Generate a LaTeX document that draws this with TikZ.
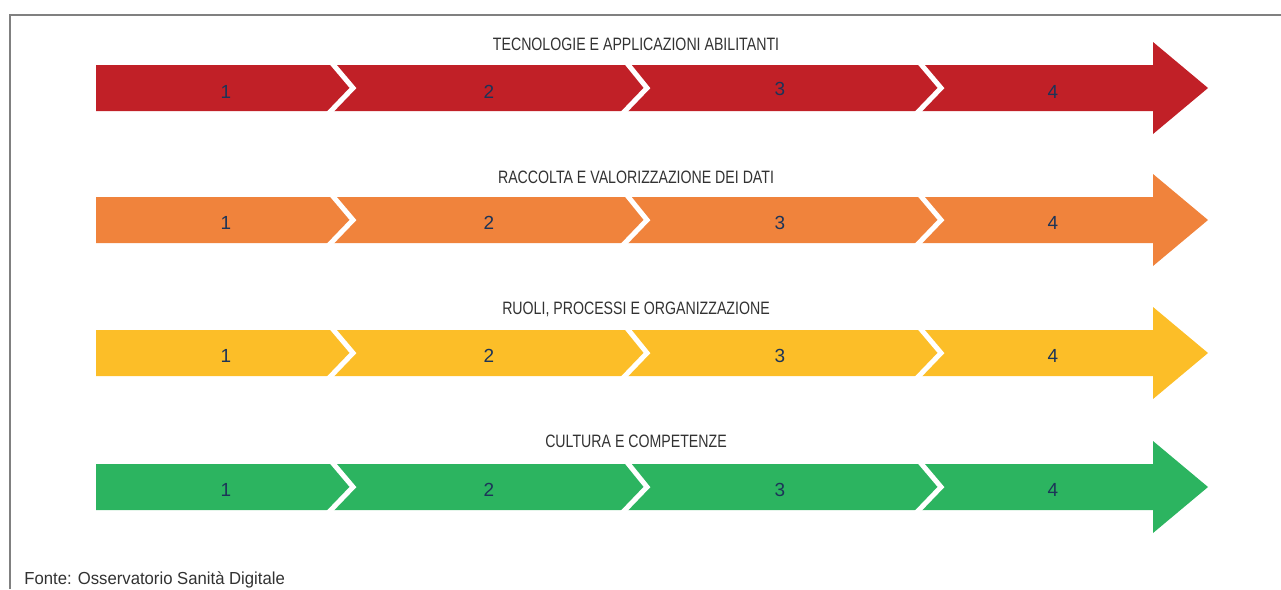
\documentclass[tikz,border=0pt]{standalone}
\usepackage{fontspec}
\setmainfont{Liberation Sans}
\newfontfamily\condfont{Liberation Sans}[FakeStretch=0.79]
\newfontfamily\notefont{Liberation Sans}[FakeStretch=0.96]
\usepackage{tikz}
\usetikzlibrary{positioning}
\definecolor{techred}{RGB}{193,32,39}
\definecolor{datiorange}{RGB}{240,131,60}
\definecolor{ruoliyellow}{RGB}{252,190,40}
\definecolor{culturagreen}{RGB}{44,180,96}
\definecolor{stagenavy}{RGB}{28,52,88}
\definecolor{titlegrey}{RGB}{50,50,50}
\definecolor{framegrey}{RGB}{128,128,128}
\tikzset{
    rowtitle/.style={anchor=base, inner sep=0pt, text=titlegrey, font=\condfont\fontsize{10.2pt}{12pt}\selectfont},
    stagenum/.style={anchor=base, inner sep=0pt, text=stagenavy, font=\fontsize{10.8pt}{12pt}\selectfont},
    chevron/.style={draw=white, line width=1mm, miter limit=10},
    note/.style={anchor=base west, inner sep=0pt, text=titlegrey, font=\notefont\fontsize{9.9pt}{12pt}\selectfont}
}

\begin{document}
\begin{tikzpicture}[x=0.2mm, y=-0.2mm]
        \useasboundingbox (0,0) rectangle (1281,589);
        % Frame
        \draw[framegrey, line width=0.35mm] (10,589) -- (10,15) -- (1281,15);

        % Tecnologie
        \fill[techred] (96,65) -- (1153,65) -- (1153,42) -- (1208,88) -- (1153,134) -- (1153,111) -- (96,111) -- cycle;
        \draw[chevron] (331,62) -- (353,88) -- (328,114);
        \draw[chevron] (626,62) -- (647,88) -- (622,114);
        \draw[chevron] (919,62) -- (941,88) -- (916,114);
        \node (tech) [rowtitle] at (636,50) {TECNOLOGIE E APPLICAZIONI ABILITANTI};
        \node (tech1) [stagenum] at (226,98) {1};
        \node (tech2) [stagenum] at (489,98) {2};
        \node (tech3) [stagenum] at (780,95) {3};
        \node (tech4) [stagenum] at (1053,98) {4};

        % Dati
        \fill[datiorange] (96,197) -- (1153,197) -- (1153,174) -- (1208,220) -- (1153,266) -- (1153,243) -- (96,243) -- cycle;
        \draw[chevron] (331,194) -- (353,220) -- (328,246);
        \draw[chevron] (626,194) -- (647,220) -- (622,246);
        \draw[chevron] (919,194) -- (941,220) -- (916,246);
        \node (dati) [rowtitle] at (636,183) {RACCOLTA E VALORIZZAZIONE DEI DATI};
        \node (dati1) [stagenum] at (226,229) {1};
        \node (dati2) [stagenum] at (489,229) {2};
        \node (dati3) [stagenum] at (780,229) {3};
        \node (dati4) [stagenum] at (1053,229) {4};

        % Ruoli
        \fill[ruoliyellow] (96,330) -- (1153,330) -- (1153,307) -- (1208,353) -- (1153,399) -- (1153,376) -- (96,376) -- cycle;
        \draw[chevron] (331,327) -- (353,353) -- (328,379);
        \draw[chevron] (626,327) -- (647,353) -- (622,379);
        \draw[chevron] (919,327) -- (941,353) -- (916,379);
        \node (ruoli) [rowtitle] at (636,314) {RUOLI, PROCESSI E ORGANIZZAZIONE};
        \node (ruoli1) [stagenum] at (226,362) {1};
        \node (ruoli2) [stagenum] at (489,362) {2};
        \node (ruoli3) [stagenum] at (780,362) {3};
        \node (ruoli4) [stagenum] at (1053,362) {4};

        % Cultura
        \fill[culturagreen] (96,464) -- (1153,464) -- (1153,441) -- (1208,487) -- (1153,533) -- (1153,510) -- (96,510) -- cycle;
        \draw[chevron] (331,461) -- (353,487) -- (328,513);
        \draw[chevron] (626,461) -- (647,487) -- (622,513);
        \draw[chevron] (919,461) -- (941,487) -- (916,513);
        \node (cultura) [rowtitle] at (636,447) {CULTURA E COMPETENZE};
        \node (cultura1) [stagenum] at (226,496) {1};
        \node (cultura2) [stagenum] at (489,496) {2};
        \node (cultura3) [stagenum] at (780,496) {3};
        \node (cultura4) [stagenum] at (1053,496) {4};

        % Source
        \node (fonte) [note] at (24,584) {Fonte: Osservatorio Sanità Digitale};
    \end{tikzpicture}
\end{document}
